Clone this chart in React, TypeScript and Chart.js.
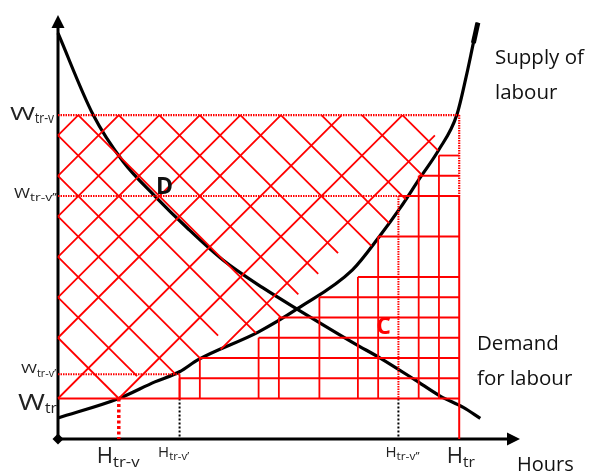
import React, { useEffect, useRef } from 'react';
import { Chart, registerables } from 'chart.js';

Chart.register(...registerables);

// ---------- data ----------
const HOURS_MAX = 114;
const WAGE_MAX = 104.7;

const supplyHours = [0, 15, 23.9, 30, 34.6, 49.4, 59.3, 72.6, 79.3, 84.4, 89.2, 93.9, 98.4, 100.9, 102.5, 103.6];
const supplyWages = [5.2, 10, 14.1, 16.6, 19.6, 26.4, 32.3, 41.7, 50, 57, 64.3, 71.3, 80, 90.3, 97.8, 102.8];

const demandHours = [0, 8.7, 16, 23.9, 31.9, 40.7, 50.6, 59.3, 73.3, 79.5, 88.1, 94.3, 100, 104.2];
const demandWages = [100.2, 80, 68.6, 60, 52.1, 44.2, 37.3, 31.9, 23.5, 20, 14.6, 10.6, 7.8, 5.1];

const wageTickValues = [80, 60, 16, 10];
const wageTickSubs = ['tr-v', 'tr-v’’', 'tr-v’', 'tr'];
const hourTickValues = [15, 30, 84, 99];
const hourTickSubs = ['tr-v', 'tr-v’', 'tr-v’’', 'tr'];

const stairHours = [30, 35, 49.5, 54.5, 64.5, 74, 79, 84, 89, 94];
const stairWages = [15, 20, 25, 30, 35, 40, 50, 60, 65, 70];

const hatchRiseIntercepts = [75, 65, 55, 45, 35, 25, 10, -5, -18];
const hatchRiseEnds: (number | null)[] = [null, null, null, null, null, null, null, null, 93];
const hatchFallIntercepts = [25, 35, 45, 55, 65, 75, 85, 95, 105, 115, 125, 135, 145, 155, 165];
const hatchFallEnds: (number | null)[] = [null, 19.5, null, null, 39.5, null, null, 59.3, 64.2, 69.1, null, null, null, null, null];

const regionLabels = ['D', 'C'];
const regionLabelHours = [24.2, 78.5];
const regionLabelWages = [60.5, 25.9];

const curveLabels = [['Supply of', 'labour'], ['Demand', 'for labour']];
const axisLabel = 'Hours';

// ---------- derived ----------
const W_TRV = wageTickValues[0];
const W_TRV2 = wageTickValues[1];
const W_TRV1 = wageTickValues[2];
const W_TR = wageTickValues[3];
const H_TRV = hourTickValues[0];
const H_TRV1 = hourTickValues[1];
const H_TRV2 = hourTickValues[2];
const H_TR = hourTickValues[3];

const RED = '#ff0000';
const FONT = '"Open Sans", "DejaVu Sans", sans-serif';
const DOT = [1.5, 1];

type P = { x: number; y: number };

function supplyHoursAtWage(w: number): number {
  for (let i = 0; i < supplyWages.length - 1; i++) {
    const w0 = supplyWages[i];
    const w1 = supplyWages[i + 1];
    if (w >= w0 && w <= w1) {
      return supplyHours[i] + ((supplyHours[i + 1] - supplyHours[i]) * (w - w0)) / (w1 - w0);
    }
  }
  return w < supplyWages[0] ? supplyHours[0] : supplyHours[supplyHours.length - 1];
}

function hatchSegment(slope: number, intercept: number, endHours: number | null): P[] | null {
  let start: number | null = null;
  let end: number | null = null;
  for (let k = 0; k <= 11000; k++) {
    const h = k * 0.01;
    const w = slope * h + intercept;
    const inside = w >= W_TR - 1e-6 && w <= W_TRV + 1e-6 && h <= supplyHoursAtWage(w) + 1e-6;
    if (inside) {
      if (start === null) start = h;
      end = h;
    } else if (start !== null) break;
  }
  if (start === null || end === null) return null;
  if (endHours !== null) end = Math.min(end, endHours);
  return [
    { x: start, y: slope * start + intercept },
    { x: end, y: slope * end + intercept },
  ];
}

function line(data: P[], color: string, width: number, dash: number[] = [], smooth = false) {
  return {
    data,
    showLine: true,
    borderColor: color,
    backgroundColor: color,
    borderWidth: width,
    borderDash: dash,
    borderCapStyle: 'butt',
    pointRadius: 0,
    pointHoverRadius: 0,
    fill: false,
    clip: false,
    cubicInterpolationMode: smooth ? 'monotone' : 'default',
    tension: smooth ? 0.4 : 0,
  } as any;
}

function buildDatasets() {
  const ds: any[] = [];
  // hatching (diagonal)
  hatchRiseIntercepts.forEach((b, i) => {
    const s = hatchSegment(1, b, hatchRiseEnds[i]);
    if (s) ds.push(line(s, RED, 1.8));
  });
  hatchFallIntercepts.forEach((b, i) => {
    const s = hatchSegment(-1, b, hatchFallEnds[i]);
    if (s) ds.push(line(s, RED, 1.8));
  });
  // staircase grid
  stairHours.forEach((h, i) => {
    const w = stairWages[i];
    ds.push(line([{ x: h, y: w }, { x: H_TR, y: w }], RED, 1.8));
    const dotted = h === H_TRV2;
    ds.push(line([{ x: h, y: w }, { x: h, y: W_TR }], RED, dotted ? 2 : 1.8, dotted ? DOT : []));
  });
  // wage reference lines
  ds.push(line([{ x: 0, y: W_TR }, { x: H_TR, y: W_TR }], RED, 2));
  ds.push(line([{ x: 0, y: W_TRV }, { x: H_TR, y: W_TRV }], RED, 2.2, DOT));
  ds.push(line([{ x: 0, y: W_TRV2 }, { x: H_TRV2, y: W_TRV2 }], RED, 2.2, DOT));
  ds.push(line([{ x: 0, y: W_TRV1 }, { x: H_TRV1, y: W_TRV1 }], RED, 2, DOT));
  // hour reference lines
  ds.push(line([{ x: H_TR, y: W_TRV }, { x: H_TR, y: W_TRV2 }], RED, 2.2, DOT));
  ds.push(line([{ x: H_TR, y: W_TRV2 }, { x: H_TR, y: 0 }], RED, 2));
  ds.push(line([{ x: H_TRV1, y: W_TRV1 }, { x: H_TRV1, y: W_TR }], RED, 1.8));
  ds.push(line([{ x: H_TRV2, y: W_TR }, { x: H_TRV2, y: 0 }], '#000', 2, [2, 2]));
  ds.push(line([{ x: H_TRV1, y: W_TR }, { x: H_TRV1, y: 0 }], '#000', 2, [2, 2]));
  ds.push(line([{ x: H_TRV, y: W_TR }, { x: H_TRV, y: 0 }], RED, 3.5, [3, 2.5]));
  // curves
  ds.push(line(supplyHours.map((x, i) => ({ x, y: supplyWages[i] })), '#000', 3.2, [], true));
  const n = supplyHours.length;
  ds.push(line([{ x: supplyHours[n - 2], y: supplyWages[n - 2] }, { x: supplyHours[n - 1], y: supplyWages[n - 1] }], '#000', 5));
  ds.push(line(demandHours.map((x, i) => ({ x, y: demandWages[i] })), '#000', 3.2, [], true));
  // axes
  ds.push(line([{ x: 0, y: 0 }, { x: 0, y: WAGE_MAX - 2 }], '#000', 3));
  ds.push(line([{ x: 0, y: 0 }, { x: HOURS_MAX - 2, y: 0 }], '#000', 3));
  return ds;
}

function drawFitted(
  ctx: CanvasRenderingContext2D,
  text: string,
  x: number,
  baseline: number,
  size: number,
  weight: string,
  width: number | null,
  color: string,
  align: 'left' | 'right'
): number {
  ctx.save();
  ctx.font = `${weight} ${size}px ${FONT}`;
  ctx.fillStyle = color;
  ctx.textAlign = 'left';
  ctx.textBaseline = 'alphabetic';
  const w = ctx.measureText(text).width;
  const sx = width ? width / w : 1;
  const left = align === 'right' ? x - w * sx : x;
  ctx.translate(left, baseline);
  ctx.scale(sx, 1);
  ctx.fillText(text, 0, 0);
  ctx.restore();
  return align === 'right' ? left : left + w * sx;
}

// styles for tick labels: [mainSize, mainWidth, mainBaseOffset, subSize, subWidth, subBaseOffset, rightEdge]
const wageLabelStyle = [
  [19, 25, 5, 14, 19, 8, 54],
  [14, 16, 2, 11, 27, 5, 57],
  [13, 16, -1, 10.5, 19, 3, 56],
  [21, 27, 11.5, 14, 12, 14.5, 57],
];
// [mainSize, leftOffset, baseline, subSize, subWidth, subBaseline]
const hourLabelStyle = [
  [22, -22, 463, 14, 26.5, 467],
  [15, -21.5, 456.5, 10, 20, 460],
  [15, -13, 456.5, 10, 23, 460],
  [22, -12.5, 463, 14, 12, 466.5],
];

const decorPlugin = {
  id: 'decor',
  afterDatasetsDraw(chart: any) {
    const ctx: CanvasRenderingContext2D = chart.ctx;
    const xs = chart.scales.x;
    const ys = chart.scales.y;
    const x0 = xs.getPixelForValue(0);
    const y0 = ys.getPixelForValue(0);
    const yTop = ys.getPixelForValue(WAGE_MAX);
    const xRight = xs.getPixelForValue(HOURS_MAX);
    ctx.save();
    ctx.fillStyle = '#000';
    ctx.beginPath();
    ctx.moveTo(x0, yTop);
    ctx.lineTo(x0 - 6.5, yTop + 13);
    ctx.lineTo(x0 + 6.5, yTop + 13);
    ctx.closePath();
    ctx.fill();
    ctx.beginPath();
    ctx.moveTo(xRight, y0);
    ctx.lineTo(xRight - 13, y0 - 6.5);
    ctx.lineTo(xRight - 13, y0 + 6.5);
    ctx.closePath();
    ctx.fill();
    ctx.beginPath();
    ctx.moveTo(x0, y0 - 5.5);
    ctx.lineTo(x0 + 5.5, y0);
    ctx.lineTo(x0, y0 + 5.5);
    ctx.lineTo(x0 - 5.5, y0);
    ctx.closePath();
    ctx.fill();
    ctx.restore();

    wageTickValues.forEach((v, i) => {
      const [ms, mw, mb, ss, sw, sb, right] = wageLabelStyle[i];
      const py = ys.getPixelForValue(v);
      const subLeft = drawFitted(ctx, wageTickSubs[i], right, py + sb, ss, 'normal', sw, '#222', 'right');
      drawFitted(ctx, 'W', subLeft, py + mb, ms, 'normal', mw, '#222', 'right');
    });
    hourTickValues.forEach((v, i) => {
      const [ms, lo, mb, ss, sw, sb] = hourLabelStyle[i];
      const px = xs.getPixelForValue(v);
      const end = drawFitted(ctx, 'H', px + lo, mb, ms, 'normal', null, '#222', 'left');
      drawFitted(ctx, hourTickSubs[i], end, sb, ss, 'normal', sw, '#222', 'left');
    });
    regionLabels.forEach((t, i) => {
      drawFitted(
        ctx,
        t,
        xs.getPixelForValue(regionLabelHours[i]),
        ys.getPixelForValue(regionLabelWages[i]),
        23,
        'bold',
        null,
        i === 0 ? '#111' : RED,
        'left'
      );
    });
    drawFitted(ctx, curveLabels[0][0], 495, 64, 20.5, 'normal', null, '#111', 'left');
    drawFitted(ctx, curveLabels[0][1], 495, 99, 20.5, 'normal', null, '#111', 'left');
    drawFitted(ctx, curveLabels[1][0], 477, 350, 20.5, 'normal', null, '#111', 'left');
    drawFitted(ctx, curveLabels[1][1], 477, 385, 20.5, 'normal', null, '#111', 'left');
    drawFitted(ctx, axisLabel, 517, 471, 20, 'normal', null, '#111', 'left');
  },
};

export default function App() {
  const ref = useRef<HTMLCanvasElement | null>(null);
  useEffect(() => {
    if (!ref.current) return;
    const chart = new Chart(ref.current, {
      type: 'scatter',
      data: { datasets: buildDatasets() },
      options: {
        animation: false,
        responsive: false,
        devicePixelRatio: 1,
        events: [],
        layout: { padding: { left: 58, right: 71, top: 15, bottom: 34 } },
        scales: {
          x: { type: 'linear', min: 0, max: HOURS_MAX, display: false },
          y: { type: 'linear', min: 0, max: WAGE_MAX, display: false },
        },
        plugins: { legend: { display: false }, tooltip: { enabled: false } },
      } as any,
      plugins: [decorPlugin],
    });
    return () => chart.destroy();
  }, []);
  return (
    <div style={{ position: 'fixed', left: 0, top: 0, width: 591, height: 473, background: '#fff' }}>
      <canvas ref={ref} width={591} height={473} style={{ display: 'block', width: 591, height: 473 }} />
    </div>
  );
}
